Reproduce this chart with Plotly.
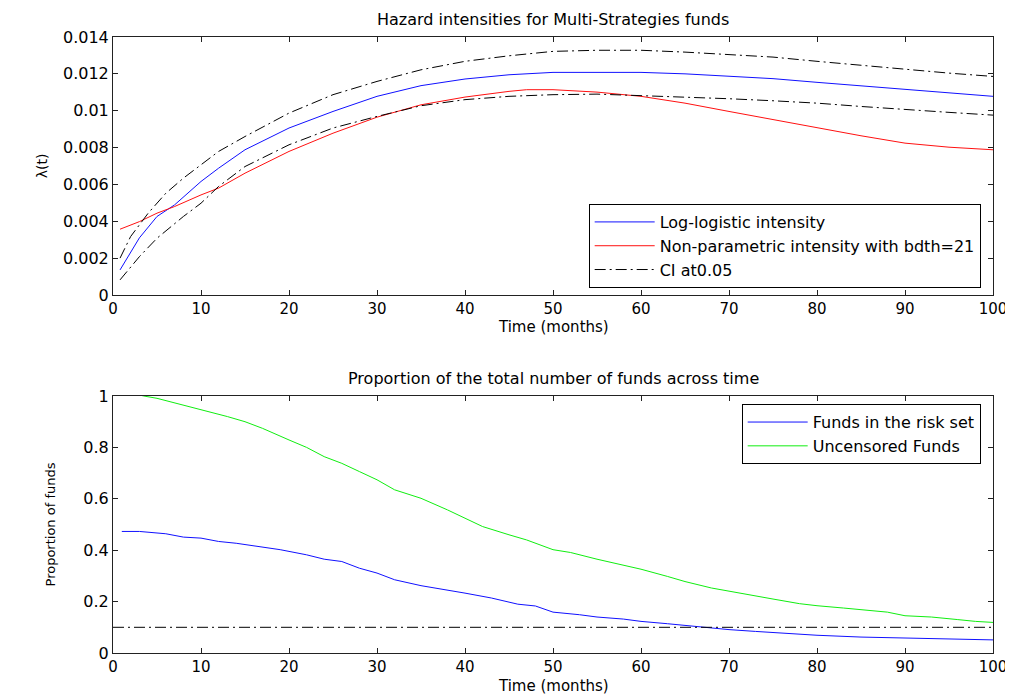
import plotly.graph_objects as go

# ---------------- Top panel data ----------------
t_blue = [0.8, 1.7, 3, 5, 7, 10, 12, 15, 20, 25, 30, 35, 40, 45, 50, 55, 60, 65, 70, 75, 80, 85, 90, 95, 100]
loglogistic = [0.00136, 0.00208, 0.0031, 0.00426, 0.00489, 0.00616, 0.00688, 0.00788, 0.00906, 0.00996,
               0.01078, 0.01136, 0.01172, 0.01195, 0.01208, 0.01208, 0.01208, 0.0120, 0.01186, 0.01174,
               0.01154, 0.01136, 0.01117, 0.0110, 0.01078]

t_red = [0.8, 3, 5, 6, 7, 10, 12, 15, 20, 25, 30, 35, 40, 45, 47, 50, 55, 60, 65, 70, 75, 80, 85, 90, 95, 100]
nonparam = [0.00357, 0.00398, 0.00444, 0.00462, 0.0048, 0.00543, 0.0058, 0.00661, 0.00779, 0.00878,
            0.00965, 0.01032, 0.01074, 0.01105, 0.01114, 0.01114, 0.01101, 0.01078, 0.01041, 0.00996,
            0.00951, 0.00906, 0.00864, 0.00824, 0.00802, 0.00788]

t_up = [0.8, 2, 4, 6, 8, 10, 12, 15, 20, 25, 30, 35, 40, 45, 50, 55, 60, 65, 70, 75, 80, 85, 90, 95, 100]
ci_upper = [0.0020, 0.00317, 0.00444, 0.00552, 0.00634, 0.00706, 0.00779, 0.0086, 0.00987, 0.01087,
            0.01159, 0.01222, 0.01268, 0.01298, 0.01322, 0.01328, 0.01328, 0.01318, 0.01304, 0.01291,
            0.01268, 0.01246, 0.01228, 0.01204, 0.01186]

t_low = [0.8, 3, 5, 8, 10, 12, 15, 20, 25, 30, 35, 40, 45, 50, 55, 60, 65, 70, 75, 80, 85, 90, 95, 100]
ci_lower = [0.00082, 0.00208, 0.00308, 0.00426, 0.00498, 0.00589, 0.00697, 0.00815, 0.00906, 0.00969,
            0.01027, 0.0106, 0.01078, 0.01087, 0.0109, 0.01083, 0.01074, 0.01065, 0.01054, 0.01041,
            0.01023, 0.01005, 0.00991, 0.00976]

# ---------------- Bottom panel data ----------------
t_green = [1, 3.5, 5, 8, 10, 13, 15, 17, 20, 22, 24, 26, 28, 30, 32, 35, 38, 40, 42, 45, 47, 50, 52, 55,
           58, 60, 63, 65, 68, 70, 72, 75, 78, 80, 83, 86, 88, 90, 93, 96, 98, 100]
uncensored = [1.02, 1.0, 0.991, 0.965, 0.948, 0.92, 0.9, 0.874, 0.829, 0.80, 0.764, 0.738, 0.706, 0.674,
              0.635, 0.602, 0.557, 0.525, 0.492, 0.46, 0.44, 0.402, 0.391, 0.365, 0.343, 0.326, 0.298,
              0.278, 0.253, 0.24, 0.227, 0.21, 0.192, 0.184, 0.175, 0.166, 0.159, 0.145, 0.14, 0.13,
              0.123, 0.119]

t_risk = [1, 3, 6, 8, 10, 12, 14, 16, 19, 22, 24, 26, 28, 30, 32, 35, 38, 40, 43, 46, 48, 50, 53, 55,
          58, 60, 63, 66, 68, 70, 73, 76, 80, 85, 90, 95, 97, 100]
risk_set = [0.473, 0.473, 0.464, 0.451, 0.447, 0.434, 0.427, 0.417, 0.402, 0.382, 0.365, 0.356, 0.33,
            0.311, 0.285, 0.262, 0.246, 0.233, 0.214, 0.19, 0.183, 0.159, 0.149, 0.14, 0.132, 0.123,
            0.114, 0.104, 0.10, 0.091, 0.084, 0.078, 0.069, 0.062, 0.058, 0.054, 0.052, 0.051]

ref_x = [0, 100]
ref_y = [0.1, 0.1]

x_ticks = [0, 10, 20, 30, 40, 50, 60, 70, 80, 90, 100]
x_ticktext = ["0", "10", "20", "30", "40", "50", "60", "70", "80", "90", "100"]
y1_ticks = [0, 0.002, 0.004, 0.006, 0.008, 0.01, 0.012, 0.014]
y1_ticktext = ["0", "0.002", "0.004", "0.006", "0.008", "0.01", "0.012", "0.014"]
y2_ticks = [0, 0.2, 0.4, 0.6, 0.8, 1]
y2_ticktext = ["0", "0.2", "0.4", "0.6", "0.8", "1"]

FONT = "DejaVu Sans"
DASHDOT = "11px,4px,2px,4px"

fig = go.Figure()

fig.add_trace(go.Scatter(x=t_blue, y=loglogistic, mode="lines", name="Log-logistic intensity",
                         line=dict(color="#1010ff", width=1), xaxis="x", yaxis="y", legend="legend"))
fig.add_trace(go.Scatter(x=t_red, y=nonparam, mode="lines", name="Non-parametric intensity with bdth=21",
                         line=dict(color="#ff1010", width=1), xaxis="x", yaxis="y", legend="legend"))
fig.add_trace(go.Scatter(x=t_up, y=ci_upper, mode="lines", name="CI at0.05",
                         line=dict(color="black", width=1, dash=DASHDOT), xaxis="x", yaxis="y", legend="legend"))
fig.add_trace(go.Scatter(x=t_low, y=ci_lower, mode="lines", name="CI at0.05", showlegend=False,
                         line=dict(color="black", width=1, dash=DASHDOT), xaxis="x", yaxis="y"))

fig.add_trace(go.Scatter(x=t_risk, y=risk_set, mode="lines", name="Funds in the risk set",
                         line=dict(color="#1010ff", width=1), xaxis="x2", yaxis="y2", legend="legend2"))
fig.add_trace(go.Scatter(x=t_green, y=uncensored, mode="lines", name="Uncensored Funds",
                         line=dict(color="#10ee10", width=1), xaxis="x2", yaxis="y2", legend="legend2"))
fig.add_trace(go.Scatter(x=ref_x, y=ref_y, mode="lines", showlegend=False,
                         line=dict(color="black", width=1, dash=DASHDOT), xaxis="x2", yaxis="y2"))

axis_common = dict(showline=True, linecolor="#222", linewidth=1, mirror="allticks",
                   ticks="inside", ticklen=5, tickcolor="#222", showgrid=False, zeroline=False)
yfont = dict(family=FONT, size=16, color="black")
xfont = dict(family=FONT, size=15, color="black")

TOP_DOMAIN = [0.5812, 1]
BOT_DOMAIN = [0, 0.4172]

fig.update_layout(
    width=1013, height=695,
    margin=dict(l=105, r=28, t=29, b=50, autoexpand=False),
    paper_bgcolor="white", plot_bgcolor="white",
    font=dict(family=FONT, color="black"),
    xaxis=dict(domain=[0, 1], anchor="y", range=[0, 100], tickvals=x_ticks, ticktext=x_ticktext,
               tickfont=xfont, **axis_common),
    yaxis=dict(domain=TOP_DOMAIN, anchor="x", range=[0, 0.014], tickvals=y1_ticks, ticktext=y1_ticktext,
               tickfont=yfont, title=dict(text="λ(t)", font=dict(size=14), standoff=12), **axis_common),
    xaxis2=dict(domain=[0, 1], anchor="y2", range=[0, 100], tickvals=x_ticks, ticktext=x_ticktext,
                tickfont=xfont, **axis_common),
    yaxis2=dict(domain=BOT_DOMAIN, anchor="x2", range=[0, 1], tickvals=y2_ticks, ticktext=y2_ticktext,
                tickfont=yfont, title=dict(text="Proportion of funds", font=dict(size=13), standoff=24),
                **axis_common),
    legend=dict(x=0.986, y=0.5925, xanchor="right", yanchor="bottom", bgcolor="white",
                bordercolor="black", borderwidth=1, font=dict(family=FONT, size=16),
                tracegroupgap=0, itemwidth=60),
    legend2=dict(x=0.986, y=0.404, xanchor="right", yanchor="top", bgcolor="white",
                 bordercolor="black", borderwidth=1, font=dict(family=FONT, size=16),
                 tracegroupgap=0, itemwidth=60),
    annotations=[
        dict(text="Hazard intensities for Multi-Strategies funds", xref="paper", yref="paper",
             x=0.5, y=TOP_DOMAIN[1], yshift=6, xanchor="center", yanchor="bottom", showarrow=False,
             font=dict(family=FONT, size=16)),
        dict(text="Proportion of the total number of funds across time", xref="paper", yref="paper",
             x=0.5, y=BOT_DOMAIN[1], yshift=6, xanchor="center", yanchor="bottom", showarrow=False,
             font=dict(family=FONT, size=16)),
        dict(text="Time (months)", xref="paper", yref="paper",
             x=0.5, y=TOP_DOMAIN[0], yshift=-32, xanchor="center", yanchor="middle", showarrow=False,
             font=dict(family=FONT, size=15)),
        dict(text="Time (months)", xref="paper", yref="paper",
             x=0.5, y=BOT_DOMAIN[0], yshift=-33, xanchor="center", yanchor="middle", showarrow=False,
             font=dict(family=FONT, size=15)),
    ],
)

fig.write_html("out.html")
